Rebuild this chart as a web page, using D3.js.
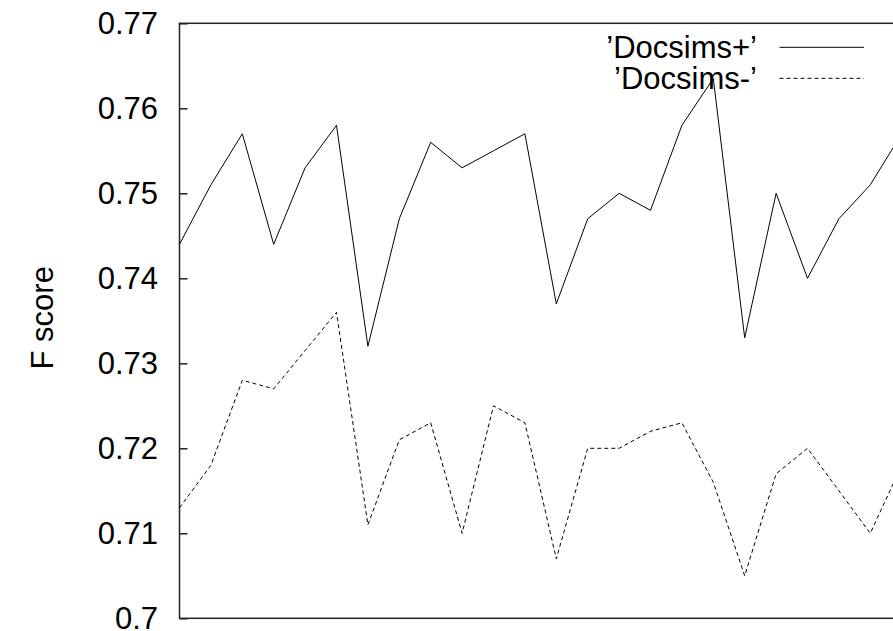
<!DOCTYPE html>
<html>
<head>
<meta charset="utf-8">
<script src="https://cdn.jsdelivr.net/npm/d3@7"></script>
<style>
  html, body { margin: 0; padding: 0; background: #fff; }
  svg { display: block; }
  text { font-family: "Liberation Sans", Arial, Helvetica, sans-serif; fill: #000; }
</style>
</head>
<body>
<svg id="chart" width="893" height="631"></svg>
<script>
// Run index along the horizontal axis
const runs = d3.range(1, 25);

// F scores per run
const docsimsPlus  = [0.744, 0.751, 0.757, 0.744, 0.753, 0.758, 0.732, 0.747, 0.756, 0.753, 0.755, 0.757,
                      0.737, 0.747, 0.750, 0.748, 0.758, 0.7635, 0.733, 0.750, 0.740, 0.747, 0.751, 0.757];
const docsimsMinus = [0.713, 0.718, 0.728, 0.727, 0.7315, 0.736, 0.711, 0.721, 0.723, 0.710, 0.725, 0.723,
                      0.707, 0.720, 0.720, 0.722, 0.723, 0.716, 0.705, 0.717, 0.720, 0.715, 0.710, 0.718];

const seriesNames = ["\u2019Docsims+\u2019", "\u2019Docsims-\u2019"];
const yTicks = [0.70, 0.71, 0.72, 0.73, 0.74, 0.75, 0.76, 0.77];
const yTickLabels = ["0.7", "0.71", "0.72", "0.73", "0.74", "0.75", "0.76", "0.77"];
const yLabel = "F score";

const svg = d3.select("#chart");
const FONT = 31;

const plotLeft = 179.5, plotTop = 23.3, plotBottom = 618.3;
const step = 31.4;
const plotRight = plotLeft + step * (runs.length - 1);

const x = d3.scaleLinear().domain([runs[0], runs[runs.length - 1]]).range([plotLeft, plotRight]);
const y = d3.scaleLinear().domain([0.70, 0.77]).range([plotBottom, plotTop]);

svg.append("rect").attr("width", 893).attr("height", 631).attr("fill", "#fff");

// Left axis with inward ticks
const yAxis = d3.axisLeft(y)
  .tickValues(yTicks)
  .tickFormat((d, i) => yTickLabels[i])
  .tickSize(-8)
  .tickPadding(21.5);

const gy = svg.append("g").attr("transform", `translate(${plotLeft},0)`).call(yAxis);
gy.select(".domain").remove();
gy.selectAll(".tick line").attr("stroke", "#222").attr("stroke-width", 1.5);
gy.selectAll(".tick text")
  .attr("font-size", FONT)
  .attr("font-family", "Liberation Sans, Arial, sans-serif")
  .attr("fill", "#000")
  .attr("dy", "0.34em");

// Plot border
svg.append("rect")
  .attr("x", plotLeft).attr("y", plotTop)
  .attr("width", plotRight - plotLeft + 40).attr("height", plotBottom - plotTop)
  .attr("fill", "none")
  .attr("stroke", "#222")
  .attr("stroke-width", 1.5);

// Series lines
const line = d3.line()
  .x((d, i) => x(runs[i]))
  .y(d => y(d));

svg.append("clipPath").attr("id", "plotclip")
  .append("rect").attr("x", plotLeft).attr("y", plotTop - 2)
  .attr("width", 893 - plotLeft + 20).attr("height", plotBottom - plotTop + 4);

svg.append("path")
  .datum(docsimsPlus)
  .attr("d", line)
  .attr("fill", "none")
  .attr("stroke", "#000")
  .attr("stroke-width", 1)
  .attr("clip-path", "url(#plotclip)");

svg.append("path")
  .datum(docsimsMinus)
  .attr("d", line)
  .attr("fill", "none")
  .attr("stroke", "#000")
  .attr("stroke-width", 1)
  .attr("stroke-dasharray", "4,3")
  .attr("clip-path", "url(#plotclip)");

// Legend
const legend = svg.append("g");
const legendRows = [
  { name: seriesNames[0], dash: null },
  { name: seriesNames[1], dash: "4,3" }
];
legendRows.forEach((r, i) => {
  const cy = 47.3 + i * 31;
  legend.append("text")
    .attr("x", 757).attr("y", cy + 10.5)
    .attr("text-anchor", "end")
    .attr("font-size", FONT)
    .text(r.name);
  legend.append("line")
    .attr("x1", 779.5).attr("x2", 864)
    .attr("y1", cy).attr("y2", cy)
    .attr("stroke", "#000").attr("stroke-width", 1)
    .attr("stroke-dasharray", r.dash);
});

// Y axis title
svg.append("text")
  .attr("transform", `translate(53,${(plotTop + plotBottom) / 2 - 3}) rotate(-90)`)
  .attr("text-anchor", "middle")
  .attr("font-size", FONT)
  .text(yLabel);
</script>
</body>
</html>
